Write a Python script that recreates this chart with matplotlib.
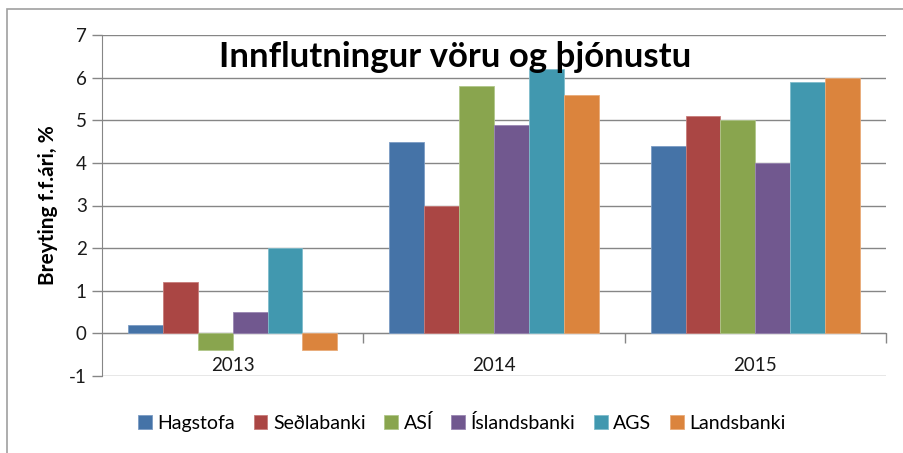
import matplotlib.pyplot as plt
import numpy as np
from matplotlib.patches import Rectangle

plt.rcParams['font.family'] = ['Lato', 'DejaVu Sans']
plt.rcParams['axes.unicode_minus'] = False

years = ['2013', '2014', '2015']
sources = ['Hagstofa', 'Seðlabanki', 'ASÍ', 'Íslandsbanki', 'AGS', 'Landsbanki']
hagstofa = [0.2, 4.5, 4.4]
sedlabanki = [1.2, 3.0, 5.1]
asi = [-0.4, 5.8, 5.0]
islandsbanki = [0.5, 4.9, 4.0]
ags = [2.0, 6.2, 5.9]
landsbanki = [-0.4, 5.6, 6.0]
series = [hagstofa, sedlabanki, asi, islandsbanki, ags, landsbanki]
colors = ['#4573a7', '#aa4644', '#89a54e', '#71588f', '#4198af', '#db843d']
edges = ['#7b9cc4', '#c77c7a', '#b0c78a', '#9a87b2', '#7fbccc', '#e9ab78']

fig = plt.figure(figsize=(9.04, 4.53), dpi=100)
# outer chart frame
fig.patches.append(Rectangle((7 / 904, -0.1), 1.2, 1 - 9 / 453 + 0.1,
                             transform=fig.transFigure, fill=False,
                             edgecolor='#a0a0a0', linewidth=1.2))

ax = fig.add_axes([102 / 904, 1 - 376 / 453, (886 - 102) / 904, (376 - 35) / 453])
x = np.arange(len(years))
w = 1 / 7.5
for i, vals in enumerate(series):
    ax.bar(x + (i - 2.5) * w, vals, w, color=colors[i], edgecolor=edges[i],
           linewidth=0.6, label=sources[i], zorder=3)

grid = '#868686'
ax.set_xlim(-0.5, 2.5)
ax.set_ylim(-1, 7)
ax.set_yticks(range(-1, 8))
ax.yaxis.grid(True, color=grid, linewidth=1.0, zorder=0)
ax.tick_params(axis='y', length=7, width=1, color=grid, labelsize=13.5,
               labelcolor='#1a1a1a', pad=4)
for s in ['top', 'right']:
    ax.spines[s].set_visible(False)
ax.spines['left'].set_color(grid)
ax.spines['bottom'].set_position(('data', 0))
ax.spines['bottom'].set_color(grid)

# ticks between the year groups, labels at the group centres
ax.set_xticks([0.5, 1.5, 2.5])
ax.set_xticklabels(['', '', ''])
ax.tick_params(axis='x', which='major', length=7, width=1, color=grid)
ax.set_xticks(x, minor=True)
ax.set_xticklabels(years, minor=True)
ax.tick_params(axis='x', which='minor', length=0, labelsize=13.5,
               labelcolor='#1a1a1a', pad=17)

ax.set_ylabel('Breyting f.f.ári, %', fontsize=15, fontweight='bold')
ax.yaxis.set_label_coords(-0.056, 0.5)

fig.text(0.504, 1 - 67 / 453, 'Innflutningur vöru og þjónustu', ha='center',
         va='baseline', fontsize=25, fontweight='bold', zorder=10)

fig.legend(loc='center', bbox_to_anchor=(0.511, 1 - 423 / 453), ncol=6, frameon=False,
           fontsize=14, handlelength=0.7, handleheight=0.7, handletextpad=0.3,
           columnspacing=0.95)

fig.savefig('out.png', dpi=100)
